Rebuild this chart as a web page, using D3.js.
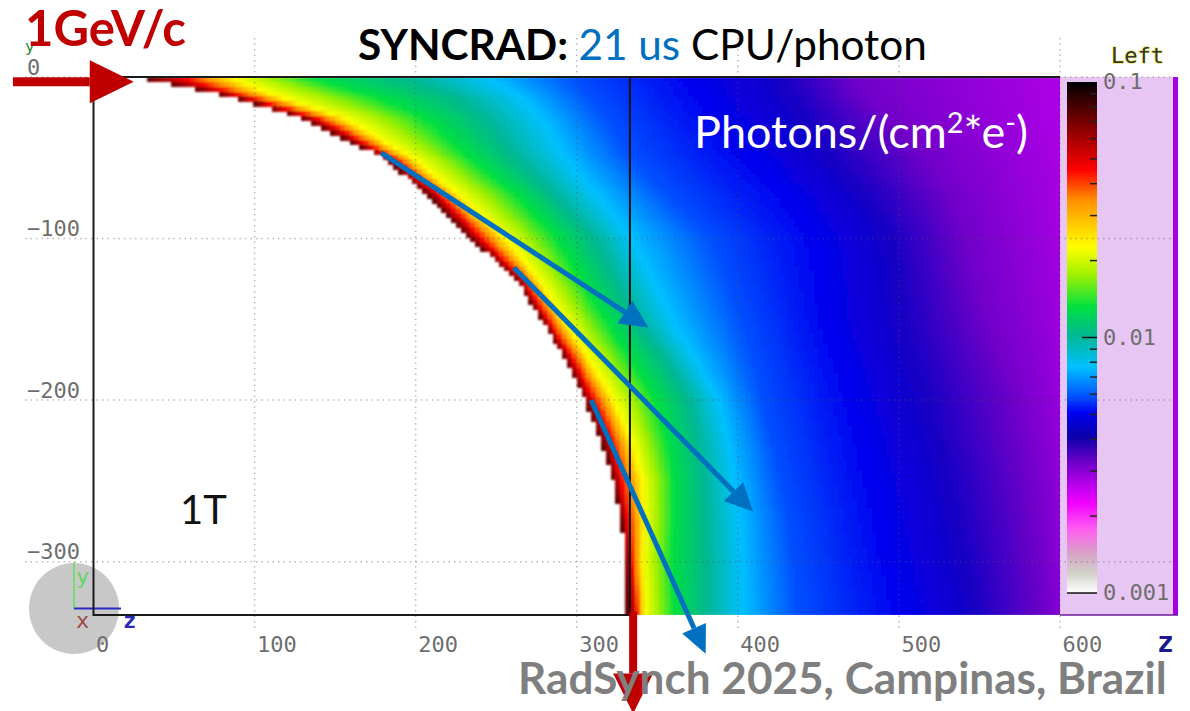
<!DOCTYPE html>
<html>
<head>
<meta charset="utf-8">
<title>SYNCRAD photon flux</title>
<script src="https://d3js.org/d3.v7.min.js"></script>
<style>
  body { margin: 0; background: #fff; }
  svg { display: block; }
  .mono { font-family: "DejaVu Sans Mono", monospace; font-size: 22px; fill: #6e6e6e; }
  .slide { font-family: Lato, "Open Sans", sans-serif; }
</style>
</head>
<body>
<svg id="chart" width="1190" height="711"></svg>
<script>
// axis ticks
var zTicks = [0, 100, 200, 300, 400, 500, 600];
var yTicks = [0, -100, -200, -300];

var legendValues = [0.1, 0.069, 0.0453, 0.0345, 0.0226, 0.0176, 0.01315, 0.01023, 0.00767, 0.00585, 0.00507, 0.00408, 0.00323, 0.0026, 0.00225, 0.00177, 0.00144, 0.0012, 0.001];
var legendColors = ["#000000", "#7a0000", "#ff0000", "#ff9000", "#ffff00", "#a0f000", "#00e040", "#00b890", "#00c0ff", "#0050ff", "#0000f0", "#0a00a8", "#7000c8", "#c000f0", "#f000ff", "#ff60f0", "#d8a0c8", "#d0d0c8", "#ffffff"];
// the map itself never looks as dark as the bar does around 0.004
var mapColors = ["#000000", "#7a0000", "#ff0000", "#ff9000", "#ffff00", "#a0f000", "#00e040", "#00b890", "#00c0ff", "#0050ff", "#0000f0", "#1400c4", "#7000c8", "#c000f0", "#f000ff", "#ff60f0", "#d8a0c8", "#d0d0c8", "#ffffff"];
var legendMinor = [0.09, 0.08, 0.07, 0.06, 0.05, 0.04, 0.03, 0.02, 0.009, 0.008, 0.007, 0.006, 0.005, 0.004, 0.003, 0.002];
var legendMajor = [0.1, 0.01, 0.001];

// rows of the map (y, cm) and the z where the flux crosses each level
var rowY = [0, -12, -25, -50, -75, -100, -125, -150, -175, -200, -225, -250, -275, -300, -320, -333];
var levelValues = [0.075, 0.0453, 0.0226, 0.0131, 0.0102, 0.00767, 0.00585, 0.00507, 0.00408, 0.00323];
var zEdge   = [26, 85, 128, 180, 210, 234, 262, 278, 293, 305, 315, 323, 328, 330, 331, 331];
var zRed    = [54, 94, 138, 186, 217, 241, 267, 282, 298, 311, 322, 328, 332, 334, 336, 337];
var zYellow = [85, 114, 155, 198, 229, 256, 276, 292, 308, 323, 334, 341, 342, 341, 342, 342];
var zGreen  = [133, 175, 206, 234, 265, 288, 303, 318, 334, 349, 356, 360, 360, 359, 360, 361];
var zTeal   = [194, 225, 242, 262, 287, 311, 324, 336, 355, 370, 375, 379, 380, 381, 381, 381];
var zCyan   = [245, 265, 278, 293, 314, 334, 347, 359, 374, 388, 394, 398, 401, 402, 403, 403];
var zLight  = [298, 308, 318, 334, 358, 383, 393, 402, 409, 415, 421, 426, 431, 434, 436, 436];
var zBlue   = [369, 377, 386, 406, 430, 447, 451, 454, 462, 470, 476, 482, 488, 493, 498, 501];
var zDark   = [426, 433, 442, 457, 479, 495, 498, 501, 508, 516, 523, 530, 535, 540, 544, 546];
var zPurple = [472, 479, 492, 516, 532, 541, 547, 554, 563, 572, 577, 582, 585, 588, 590, 591];
var rightValue = [0.00275, 0.00275, 0.00275, 0.00278, 0.0028, 0.00282, 0.00285, 0.00288, 0.0029, 0.00292, 0.00295, 0.00298, 0.003, 0.00302, 0.00304, 0.00305];

var svg = d3.select("#chart");

var z = d3.scaleLinear().domain([0, 600]).range([93.5, 1060]);
var y = d3.scaleLinear().domain([0, -333]).range([77, 615]);
var legendY = d3.scaleLog().domain([0.1, 0.001]).range([82, 593]);
var color = d3.scaleLog().domain(legendValues).range(mapColors).clamp(true);

var levelColumns = [zEdge, zRed, zYellow, zGreen, zTeal, zCyan, zLight, zBlue, zDark, zPurple];
var columnAt = levelColumns.map(function(c) { return d3.scaleLinear().domain(rowY).range(c); });
var rightAt = d3.scaleLinear().domain(rowY).range(rightValue);

var defs = svg.append("defs");
defs.append("clipPath").attr("id", "plotClip").append("rect")
    .attr("x", z(0)).attr("y", y(0)).attr("width", z(600) - z(0)).attr("height", y(-333) - y(0));
defs.append("filter").attr("id", "soft")
    .attr("filterUnits", "userSpaceOnUse")
    .attr("x", 80).attr("y", 60).attr("width", 1000).attr("height", 570)
    .append("feGaussianBlur").attr("stdDeviation", 0.8);

// heat map cells, 3 cm wide like the simulation's texture
var cellSize = 3;
var cells = svg.append("g").attr("clip-path", "url(#plotClip)")
    .append("g").attr("id", "map").attr("filter", "url(#soft)").attr("shape-rendering", "crispEdges");
for (var cy = 0; cy > -333; cy -= cellSize) {
    var mid = Math.max(cy - cellSize / 2, -333);
    var zs = columnAt.map(function(s) { return s(mid); }).concat([600]);
    var vals = levelValues.concat([rightAt(mid)]).map(function(v) { return Math.log10(v); });
    var flux = d3.scaleLinear().domain(zs).range(vals);
    for (var cz = 0; cz < 603; cz += cellSize) {
        var zMid = cz + cellSize / 2;
        if (zMid < zs[0]) continue;
        cells.append("rect")
            .attr("x", z(cz))
            .attr("y", y(cy))
            .attr("width", z(cz + cellSize) - z(cz) + 0.6)
            .attr("height", y(cy - cellSize) - y(cy) + 0.6)
            .attr("fill", color(Math.pow(10, flux(Math.min(zMid, 600)))));
    }
}

// right hand panel
svg.append("rect").attr("x", 1060).attr("y", 77).attr("width", 113).attr("height", 538).attr("fill", "#e8c6f4");
svg.append("rect").attr("x", 1173).attr("y", 77).attr("width", 5).attr("height", 538).attr("fill", "#a400e4");
svg.append("line").attr("x1", 1060).attr("x2", 1178).attr("y1", 615).attr("y2", 615).attr("stroke", "#6a1b9a").attr("stroke-width", 1.5);

var grad = defs.append("linearGradient").attr("id", "bar").attr("x1", 0).attr("x2", 0).attr("y1", 0).attr("y2", 1);
legendValues.forEach(function(v, i) {
    grad.append("stop")
        .attr("offset", (legendY(v) - 82) / (593 - 82))
        .attr("stop-color", legendColors[i]);
});
svg.append("rect").attr("x", 1067).attr("y", 82).attr("width", 30).attr("height", 511).attr("fill", "url(#bar)");
svg.append("g").selectAll("line").data(legendMinor).enter().append("line")
    .attr("x1", 1090).attr("x2", 1097)
    .attr("y1", legendY).attr("y2", legendY)
    .attr("stroke", "#222").attr("stroke-width", 1.5);
svg.append("line").attr("x1", 1082).attr("x2", 1097).attr("y1", legendY(0.01)).attr("y2", legendY(0.01)).attr("stroke", "#111").attr("stroke-width", 1.5);
svg.append("line").attr("x1", 1067).attr("x2", 1097).attr("y1", legendY(0.001)).attr("y2", legendY(0.001)).attr("stroke", "#111").attr("stroke-width", 1.5);
svg.append("g").selectAll("text").data(legendMajor).enter().append("text")
    .attr("class", "mono")
    .attr("x", 1103)
    .attr("y", function(d) { return legendY(d) + 7; })
    .text(function(d) { return d; });
svg.append("text").attr("class", "mono")
    .attr("x", 1111).attr("y", 63)
    .style("fill", "#333").style("stroke", "#eeee66").style("stroke-width", 1.5).style("paint-order", "stroke")
    .text("Left");

// orientation widget sits under the frame and the tick labels
svg.append("ellipse").attr("cx", 74).attr("cy", 608.5).attr("rx", 45).attr("ry", 45.5).attr("fill", "#c8c8c8");
svg.append("line").attr("x1", 74).attr("x2", 74).attr("y1", 562).attr("y2", 609).attr("stroke", "#5fe05f").attr("stroke-width", 1.5);
svg.append("line").attr("x1", 74).attr("x2", 121).attr("y1", 608.5).attr("y2", 608.5).attr("stroke", "#2a2ac8").attr("stroke-width", 2);
svg.append("text").attr("class", "mono").attr("x", 76).attr("y", 584).style("fill", "#60d860").text("y");
svg.append("text").attr("class", "mono").attr("x", 123).attr("y", 628).style("fill", "#2a2ab8").style("font-weight", "bold").text("z");
svg.append("text").attr("class", "mono").attr("x", 76).attr("y", 628).style("fill", "#a04848").text("x");
svg.append("text").attr("class", "mono").attr("x", 1157).attr("y", 652).style("fill", "#1a1a90").style("font-size", "28px").style("font-weight", "bold").text("z");
svg.append("text").attr("class", "mono").attr("x", 25).attr("y", 52).style("fill", "#2a8a3a").style("font-size", "16px").text("y");

// dotted grid
var gridStyle = function(sel) {
    sel.attr("stroke", "#555").attr("stroke-opacity", 0.4).attr("stroke-width", 1.5).attr("stroke-dasharray", "1.5,4");
};
svg.append("g").selectAll("line").data(zTicks.slice(1)).enter().append("line")
    .attr("x1", z).attr("x2", z)
    .attr("y1", 38).attr("y2", 628)
    .call(gridStyle);
svg.append("g").selectAll("line").data(yTicks).enter().append("line")
    .attr("x1", 25).attr("x2", 1172)
    .attr("y1", y).attr("y2", y)
    .call(gridStyle);

// axes
var zAxis = svg.append("g").attr("transform", "translate(0,652)")
    .call(d3.axisBottom(z).tickValues(zTicks).tickSize(0).tickPadding(0).tickFormat(d3.format("d")));
zAxis.select(".domain").remove();
zAxis.selectAll("text").attr("class", "mono").attr("text-anchor", "start").attr("x", 2).attr("y", 0).attr("dy", 0);

var yAxis = svg.append("g").attr("transform", "translate(27,0)")
    .call(d3.axisLeft(y).tickValues(yTicks).tickSize(0).tickFormat(d3.format("d")));
yAxis.select(".domain").remove();
yAxis.selectAll("text").attr("class", "mono").attr("text-anchor", "start").attr("x", 0).attr("y", -3).attr("dy", 0);

// frame around the vacuum chamber
var frame = d3.path();
frame.moveTo(z(600), y(0));
frame.lineTo(z(0), y(0));
frame.lineTo(z(0), y(-333));
frame.lineTo(z(333), y(-333));
svg.append("path").attr("d", frame.toString()).attr("fill", "none").attr("stroke", "#1a1a1a").attr("stroke-width", 2);
svg.append("line").attr("x1", z(333)).attr("x2", z(333)).attr("y1", y(0)).attr("y2", y(-333)).attr("stroke", "#111").attr("stroke-width", 2);

// arrows, given in plot units
function arrow(a, b, col, w, headLen, headW) {
    var x0 = z(a[0]), y0 = y(a[1]), x1 = z(b[0]), y1 = y(b[1]);
    var ang = Math.atan2(y1 - y0, x1 - x0);
    var bx = x1 - headLen * Math.cos(ang), by = y1 - headLen * Math.sin(ang);
    var nx = -Math.sin(ang) * headW / 2, ny = Math.cos(ang) * headW / 2;
    svg.append("line").attr("x1", x0).attr("y1", y0).attr("x2", bx).attr("y2", by).attr("stroke", col).attr("stroke-width", w);
    svg.append("polygon").attr("fill", col)
        .attr("points", [[x1, y1], [bx + nx, by + ny], [bx - nx, by - ny]].join(" "));
}
arrow([178.6, -47], [344.5, -155], "#0070c0", 5, 28, 27);
arrow([261, -118], [409.5, -269], "#0070c0", 5, 28, 27);

// slide text
var title = svg.append("text").attr("class", "slide").attr("x", 358).attr("y", 60).style("font-size", "42.3px");
title.append("tspan").style("font-weight", "bold").text("SYNCRAD: ");
title.append("tspan").attr("fill", "#0070c0").text("21 us ");
title.append("tspan").text("CPU/photon");

svg.append("text").attr("class", "slide").attr("x", 25).attr("y", 46)
    .style("font-size", "49px").style("font-weight", "bold").attr("fill", "#c00000").text("1GeV/c");

var units = svg.append("text").attr("class", "slide").attr("x", 694).attr("y", 148).attr("fill", "#fff").style("font-size", "45px");
units.append("tspan").text("Photons/(cm");
units.append("tspan").attr("dy", -15).style("font-size", "29px").text("2");
units.append("tspan").attr("dy", 15).text("*e");
units.append("tspan").attr("dy", -15).style("font-size", "29px").text("-");
units.append("tspan").attr("dy", 15).text(")");

svg.append("text").attr("class", "slide").attr("x", 180).attr("y", 524).style("font-size", "40px").attr("fill", "#111").text("1T");

arrow([-50, -3], [25, -3], "#c00000", 9, 44, 43);
arrow([335, -331], [335, -394], "#c00000", 8, 40, 40);
arrow([309, -200], [380, -357], "#0070c0", 5, 28, 26);

svg.append("text").attr("class", "slide").attr("x", 518).attr("y", 694)
    .style("font-size", "44.1px").style("font-weight", "bold").attr("fill", "#7f7f7f").text("RadSynch 2025, Campinas, Brazil");
</script>
</body>
</html>
